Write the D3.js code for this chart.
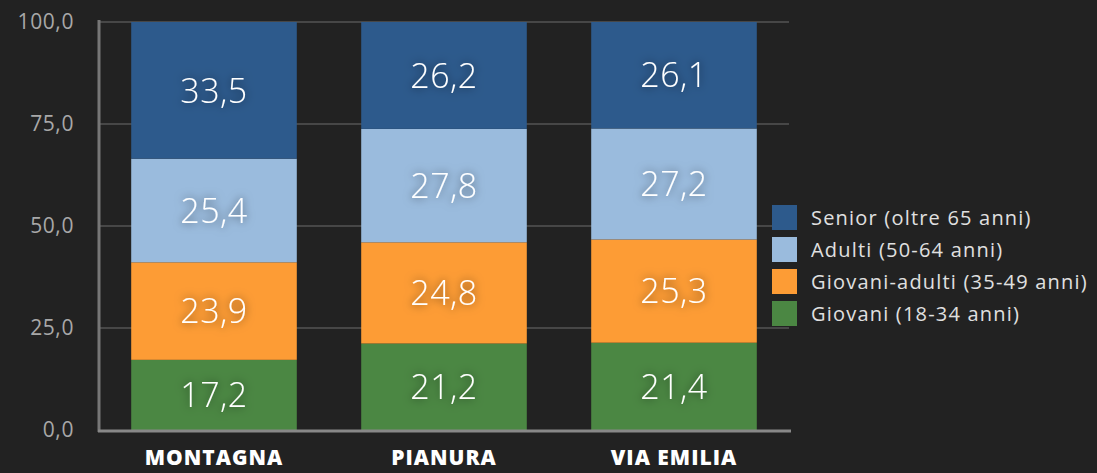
<!DOCTYPE html>
<html>
<head>
<meta charset="utf-8">
<script src="https://cdn.jsdelivr.net/npm/d3@7"></script>
<style>
  html, body { margin: 0; padding: 0; background: #222222; }
  svg { display: block; }
</style>
</head>
<body>
<div id="chart"></div>
<script>
const categories = ['MONTAGNA', 'PIANURA', 'VIA EMILIA'];
const seriesNames = ['Giovani (18-34 anni)', 'Giovani-adulti (35-49 anni)', 'Adulti (50-64 anni)', 'Senior (oltre 65 anni)'];
const giovani = [17.2, 21.2, 21.4];
const giovaniAdulti = [23.9, 24.8, 25.3];
const adulti = [25.4, 27.8, 27.2];
const senior = [33.5, 26.2, 26.1];
const yTicks = [0, 25, 50, 75, 100];

const colors = ['#4b8743', '#fd9c35', '#9abbdd', '#2d5a8c'];
const width = 1097;
const height = 473;
const margin = {top: 22, right: 308, bottom: 43, left: 99};
const font = '"Open Sans", Lato, sans-serif';
const fmt = v => d3.format('.1f')(v).replace('.', ',');

const svg = d3.select('#chart')
  .append('svg')
  .attr('width', width)
  .attr('height', height);

const defs = svg.append('defs');
const glow = defs.append('filter')
  .attr('id', 'glow')
  .attr('x', '-50%').attr('y', '-50%')
  .attr('width', '200%').attr('height', '200%');
glow.append('feDropShadow')
  .attr('dx', 0).attr('dy', 0)
  .attr('stdDeviation', 5)
  .attr('flood-color', '#000')
  .attr('flood-opacity', 0.6);

const x = d3.scaleBand()
  .domain(categories)
  .range([margin.left, width - margin.right])
  .paddingInner(0.28)
  .paddingOuter(0.14);
const y = d3.scaleLinear()
  .domain([0, 100])
  .range([height - margin.bottom, margin.top]);

// grid lines
svg.append('g')
  .selectAll('line')
  .data(yTicks.filter(d => d > 0))
  .join('line')
    .attr('x1', margin.left)
    .attr('x2', width - margin.right)
    .attr('y1', d => y(d))
    .attr('y2', d => y(d))
    .attr('stroke', '#555')
    .attr('stroke-width', 1.5);

const rows = categories.map((c, i) => ({
  cat: c,
  values: [giovani[i], giovaniAdulti[i], adulti[i], senior[i]],
}));
const stackData = rows.map(r => {
  const o = {cat: r.cat};
  r.values.forEach((v, k) => { o[k] = v; });
  return o;
});
const stack = d3.stack().keys([0, 1, 2, 3])(stackData);

const layers = svg.append('g')
  .selectAll('g')
  .data(stack)
  .join('g')
    .attr('fill', d => colors[d.key]);

layers.selectAll('rect')
  .data(d => d)
  .join('rect')
    .attr('x', d => x(d.data.cat))
    .attr('width', x.bandwidth())
    .attr('y', d => y(d[1]))
    .attr('height', d => y(d[0]) - y(d[1]));

layers.selectAll('text')
  .data(d => d)
  .join('text')
    .attr('x', d => x(d.data.cat) + x.bandwidth() / 2)
    .attr('y', d => (y(d[0]) + y(d[1])) / 2)
    .attr('dy', '0.36em')
    .attr('text-anchor', 'middle')
    .attr('fill', '#fff')
    .attr('filter', 'url(#glow)')
    .style('font-family', font)
    .style('font-weight', 300)
    .style('font-size', '34px')
    .style('letter-spacing', '0.5px')
    .text(d => fmt(d[1] - d[0]));

// y axis
const yAxis = svg.append('g')
  .attr('transform', `translate(${margin.left}, 0)`)
  .call(d3.axisLeft(y).tickValues(yTicks).tickSize(0).tickPadding(25).tickFormat(fmt));
yAxis.select('.domain')
  .attr('stroke', '#777')
  .attr('stroke-width', 3)
  .attr('d', `M0,${margin.top - 2}V${height - margin.bottom + 2}`);
yAxis.selectAll('text')
  .attr('fill', '#a8a8a8')
  .style('font-family', font)
  .style('font-size', '21px')
  .style('letter-spacing', '0.6px');

// x axis
const xAxis = svg.append('g')
  .attr('transform', `translate(0, ${height - margin.bottom})`)
  .call(d3.axisBottom(x).tickSize(0).tickPadding(20));
xAxis.select('.domain')
  .attr('stroke', '#888')
  .attr('stroke-width', 3)
  .attr('d', `M${margin.left - 1},1H${width - margin.right + 2}`);
xAxis.selectAll('text')
  .attr('fill', '#fff')
  .style('font-family', font)
  .style('font-weight', 800)
  .style('font-size', '21px')
  .style('letter-spacing', '1px');

// legend
const legendItems = seriesNames.slice().reverse();
const legendColors = colors.slice().reverse();
const legend = svg.append('g')
  .attr('transform', 'translate(772, 205)');
const li = legend.selectAll('g')
  .data(legendItems)
  .join('g')
    .attr('transform', (d, i) => `translate(0, ${i * 32})`);
li.append('rect')
  .attr('width', 25)
  .attr('height', 25)
  .attr('fill', (d, i) => legendColors[i]);
li.append('text')
  .attr('x', 39)
  .attr('y', 13)
  .attr('dy', '0.35em')
  .attr('fill', '#e0e0e0')
  .style('font-family', font)
  .style('font-size', '20px')
  .style('letter-spacing', '1.2px')
  .text(d => d);
</script>
</body>
</html>
